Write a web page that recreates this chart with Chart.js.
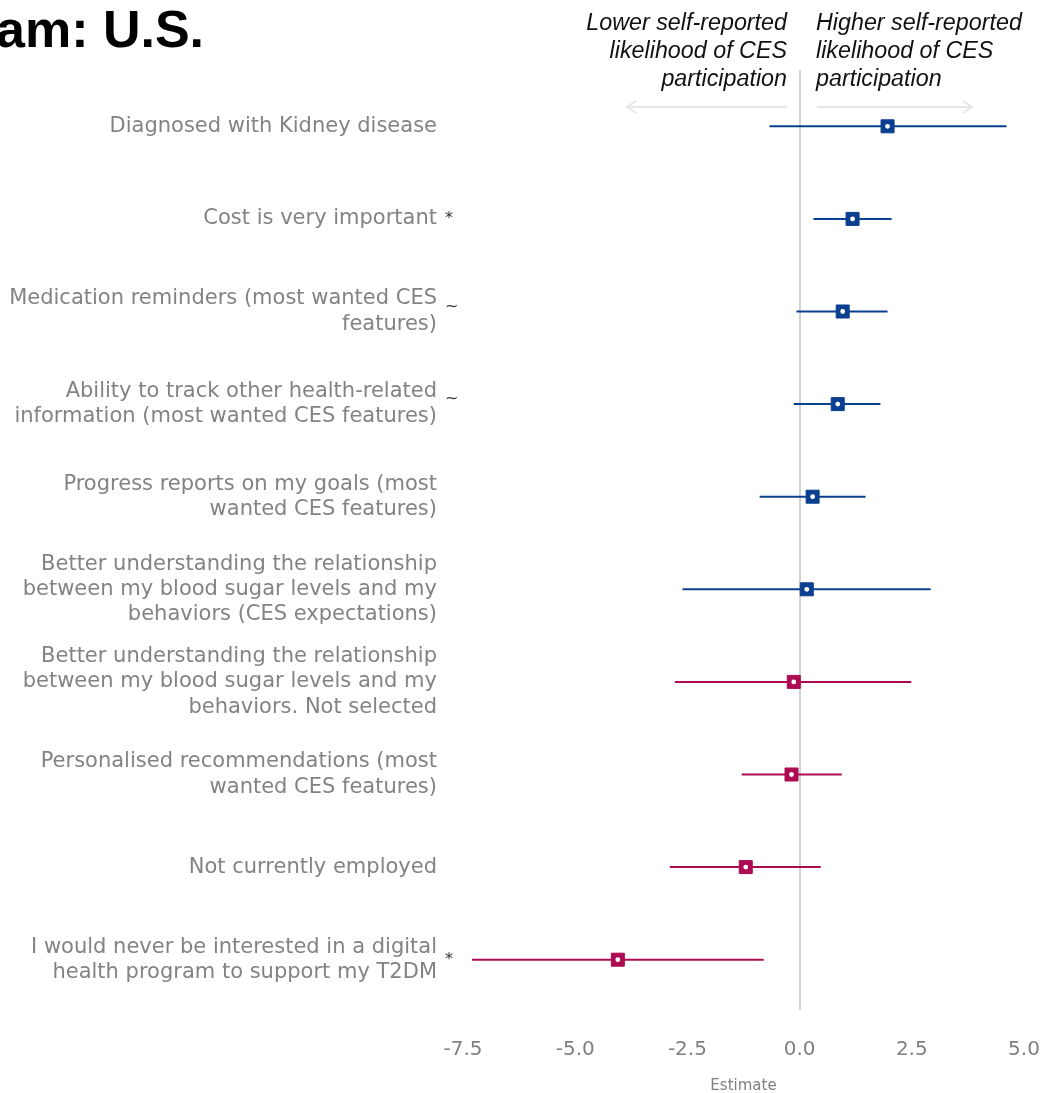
<!DOCTYPE html>
<html>
<head>
<meta charset="utf-8">
<script src="https://cdn.jsdelivr.net/npm/chart.js@4/dist/chart.umd.min.js"></script>
<style>
  html, body { margin: 0; padding: 0; background: #fff; }
  #wrap { position: relative; width: 1044px; height: 1093px; overflow: hidden; }
  #chart { position: absolute; left: 0; top: 0; }
  .title { position: absolute; left: -4px; top: -1px; font: bold 52px "Liberation Sans", Arial, sans-serif; color: #000; white-space: nowrap; }
  .note { position: absolute; top: 8px; font: italic 23.3px/28px "Liberation Sans", Arial, sans-serif; color: #111; white-space: nowrap; }
  .note.lower { right: 257px; text-align: right; }
  .note.higher { left: 816px; text-align: left; }
</style>
</head>
<body>
<div id="wrap">
  <canvas id="chart" width="1044" height="1093"></canvas>
  <div class="title">am: U.S.</div>
  <div class="note lower">Lower self-reported<br>likelihood of CES<br>participation</div>
  <div class="note higher">Higher self-reported<br>likelihood of CES<br>participation</div>
</div>
<script>
// Predictors, listed top to bottom
const predictors = [
  ["Diagnosed with Kidney disease"],
  ["Cost is very important"],
  ["Medication reminders (most wanted CES", "features)"],
  ["Ability to track other health-related", "information (most wanted CES features)"],
  ["Progress reports on my goals (most", "wanted CES features)"],
  ["Better understanding the relationship", "between my blood sugar levels and my", "behaviors (CES expectations)"],
  ["Better understanding the relationship", "between my blood sugar levels and my", "behaviors. Not selected"],
  ["Personalised recommendations (most", "wanted CES features)"],
  ["Not currently employed"],
  ["I would never be interested in a digital", "health program to support my T2DM"]
];
// Point estimates and confidence bounds
const estimate = [1.96, 1.18, 0.96, 0.85, 0.29, 0.16, -0.13, -0.18, -1.20, -4.05];
const lower    = [-0.67, 0.31, -0.07, -0.13, -0.89, -2.61, -2.78, -1.29, -2.89, -7.30];
const upper    = [4.61, 2.05, 1.96, 1.80, 1.47, 2.92, 2.49, 0.94, 0.47, -0.80];
// Significance flags shown beside the labels
const significance = ["", "*", "~", "~", "", "", "", "", "", "*"];
// X axis ticks
const xTicks = [-7.5, -5.0, -2.5, 0.0, 2.5, 5.0];

const BLUE = "#0b3f8f";
const RED = "#ad0b52";
const colorFor = v => (v >= 0 ? BLUE : RED);

const datasets = [];
// Confidence interval whiskers
estimate.forEach((e, i) => {
  datasets.push({
    type: "line",
    data: [{ x: lower[i], y: i }, { x: upper[i], y: i }],
    borderColor: colorFor(e),
    borderWidth: 2,
    pointRadius: 0,
    showLine: true,
    order: 3
  });
});
// Estimate squares
datasets.push({
  type: "scatter",
  data: estimate.map((e, i) => ({ x: e, y: i })),
  pointStyle: "rect",
  pointRadius: 9.2,
  pointBackgroundColor: estimate.map(colorFor),
  pointBorderColor: estimate.map(colorFor),
  pointBorderWidth: 1,
  order: 2
});
// White centre dots
datasets.push({
  type: "scatter",
  data: estimate.map((e, i) => ({ x: e, y: i })),
  pointStyle: "circle",
  pointRadius: 2.4,
  pointBackgroundColor: "#ffffff",
  pointBorderWidth: 0,
  order: 1
});

const decorations = {
  id: "decorations",
  beforeDatasetsDraw(chart) {
    const { ctx, scales: { x, y }, chartArea } = chart;
    const x0 = Math.round(x.getPixelForValue(0));
    ctx.save();
    // zero reference line
    ctx.strokeStyle = "#d2d2d2";
    ctx.lineWidth = 2;
    ctx.beginPath();
    ctx.moveTo(x0, 70);
    ctx.lineTo(x0, chartArea.bottom + 4);
    ctx.stroke();
    // direction arrows
    ctx.strokeStyle = "#e6e6e6";
    ctx.lineWidth = 2;
    const ay = 107;
    ctx.beginPath();
    ctx.moveTo(x0 - 13, ay); ctx.lineTo(627, ay);
    ctx.moveTo(636, ay - 6); ctx.lineTo(627, ay); ctx.lineTo(636, ay + 6);
    ctx.moveTo(x0 + 17, ay); ctx.lineTo(972, ay);
    ctx.moveTo(963, ay - 6); ctx.lineTo(972, ay); ctx.lineTo(963, ay + 6);
    ctx.stroke();
    // significance flags
    ctx.fillStyle = "#333";
    ctx.font = '16px "DejaVu Sans"';
    ctx.textAlign = "left";
    ctx.textBaseline = "middle";
    significance.forEach((s, i) => {
      if (s) ctx.fillText(s, 445, y.getPixelForValue(i) - (s === "~" ? 5 : 0));
    });
    ctx.restore();
  }
};

new Chart(document.getElementById("chart"), {
  data: { datasets },
  options: {
    responsive: false,
    animation: false,
    layout: { padding: { left: 0, right: 20, top: 80, bottom: 0 } },
    plugins: { legend: { display: false }, tooltip: { enabled: false } },
    scales: {
      x: {
        type: "linear",
        min: -7.5,
        max: 5,
        grid: { display: false },
        border: { display: false },
        afterBuildTicks: s => { s.ticks = xTicks.map(v => ({ value: v })); },
        afterFit: s => { s.height = 87; s.paddingLeft = 0; s.paddingRight = 0; },
        ticks: {
          padding: 24,
          color: "#808080",
          font: { family: "DejaVu Sans", size: 20 },
          callback: v => Number(v).toFixed(1)
        },
        title: {
          display: true,
          text: "Estimate",
          color: "#808080",
          font: { family: "DejaVu Sans", size: 15 },
          padding: { top: 0, bottom: -2 }
        }
      },
      y: {
        type: "linear",
        min: -0.5,
        max: 9.5,
        reverse: true,
        grid: { display: false },
        border: { display: false },
        afterBuildTicks: s => { s.ticks = predictors.map((_, i) => ({ value: i })); },
        afterFit: s => { s.width = 463; s.paddingTop = 0; s.paddingBottom = 0; },
        ticks: {
          padding: 18,
          color: "#838383",
          font: { family: "DejaVu Sans", size: 21, lineHeight: 1.2 },
          callback: v => predictors[v]
        }
      }
    }
  },
  plugins: [decorations]
});
</script>
</body>
</html>
